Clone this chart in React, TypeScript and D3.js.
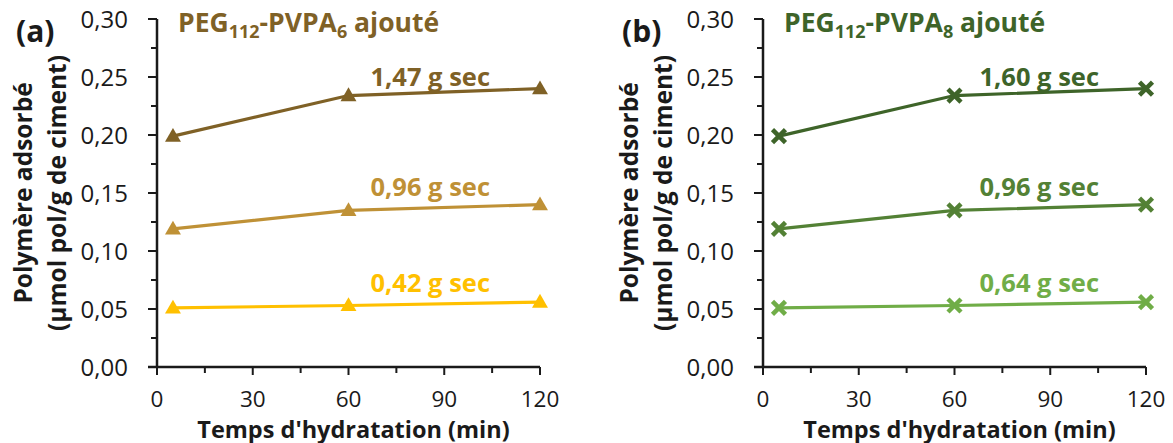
import React from "react";
import * as d3 from "d3";

const times = [5, 60, 120];
const xTickValues = [0, 30, 60, 90, 120];
const yTickValues = [0, 0.05, 0.1, 0.15, 0.2, 0.25, 0.3];

const seriesA_high = [0.199, 0.234, 0.24];
const seriesA_mid = [0.119, 0.135, 0.14];
const seriesA_low = [0.051, 0.053, 0.056];
const seriesB_high = [0.199, 0.234, 0.24];
const seriesB_mid = [0.119, 0.135, 0.14];
const seriesB_low = [0.051, 0.053, 0.056];

const labelsA = ["1,47 g sec", "0,96 g sec", "0,42 g sec"];
const labelsB = ["1,60 g sec", "0,96 g sec", "0,64 g sec"];

const colorsA = ["#7F6126", "#BF9136", "#FFC000"];
const colorsB = ["#3E6429", "#538135", "#70AD47"];

const FONT = "'Open Sans', sans-serif";
const INK = "#1a1a1a";

type PanelProps = {
  left: number;
  tag: string;
  sub: string;
  titleColor: string;
  series: number[][];
  labels: string[];
  colors: string[];
  marker: "tri" | "x";
  labelDx: number;
};

function Panel({ left, tag, sub, titleColor, series, labels, colors, marker, labelDx }: PanelProps) {
  const x = d3.scaleLinear().domain([0, 120]).range([left, left + 383]);
  const y = d3.scaleLinear().domain([0, 0.3]).range([367, 19]);
  const line = d3
    .line<number>()
    .x((_, i) => x(times[i]))
    .y((d) => y(d));
  const tri = d3.symbol().type(d3.symbolTriangle).size(110)();
  const fmt = (v: number) => v.toFixed(2).replace(".", ",");
  const yMinor = d3.range(0.025, 0.3, 0.05);
  const xMinor = d3.range(15, 120, 30);
  const labelDy = [-3, -9, -10];
  return (
    <g>
      <text x={left - 141} y={42} fontSize={30} fontWeight="bold" fill={INK} fontFamily={FONT}>
        {tag}
      </text>
      <g transform={`translate(${left - 125},${193}) rotate(-90)`}>
        <text x={0} y={0} textAnchor="middle" fontSize={24.5} fontWeight="bold" fill={INK} fontFamily={FONT}>
          Polymère adsorbé
        </text>
        <text x={0} y={34} textAnchor="middle" fontSize={24.5} fontWeight="bold" fill={INK} fontFamily={FONT}>
          (µmol pol/g de ciment)
        </text>
      </g>
      <line x1={x(0)} x2={x(0)} y1={y(0.3)} y2={y(0)} stroke={INK} strokeWidth={2.5} />
      <line x1={x(0) - 9} x2={x(120)} y1={y(0)} y2={y(0)} stroke={INK} strokeWidth={2.5} />
      {yTickValues.map((v) => (
        <g key={"yt" + v}>
          <line x1={x(0) - 9} x2={x(0)} y1={y(v)} y2={y(v)} stroke={INK} strokeWidth={2} />
          <text x={x(0) - 29} y={y(v) + 8.5} textAnchor="end" fontSize={24} fill={INK} fontFamily={FONT}>
            {fmt(v)}
          </text>
        </g>
      ))}
      {yMinor.map((v) => (
        <line key={"ym" + v} x1={x(0) - 6} x2={x(0)} y1={y(v)} y2={y(v)} stroke={INK} strokeWidth={2} />
      ))}
      {xTickValues.map((v) => (
        <g key={"xt" + v}>
          <line x1={x(v)} x2={x(v)} y1={y(0)} y2={y(0) + 8} stroke={INK} strokeWidth={2} />
          <text x={x(v)} y={y(0) + 40} textAnchor="middle" fontSize={22.5} fill={INK} fontFamily={FONT}>
            {v}
          </text>
        </g>
      ))}
      {xMinor.map((v) => (
        <line key={"xm" + v} x1={x(v)} x2={x(v)} y1={y(0)} y2={y(0) + 6} stroke={INK} strokeWidth={2} />
      ))}
      <text x={x(60) + 5} y={y(0) + 70.5} textAnchor="middle" fontSize={23.5} fontWeight="bold" fill={INK} fontFamily={FONT}>
        Temps d'hydratation (min)
      </text>
      <text x={left + 21} y={32} fontSize={26.5} fontWeight="bold" fill={titleColor} fontFamily={FONT}>
        PEG
        <tspan fontSize={18} dy={6}>112</tspan>
        <tspan dy={-6}>-PVPA</tspan>
        <tspan fontSize={18} dy={6}>{sub}</tspan>
        <tspan dy={-6}> ajouté</tspan>
      </text>
      {series.map((s, si) => (
        <g key={"s" + si}>
          <path d={line(s) || ""} fill="none" stroke={colors[si]} strokeWidth={3.2} />
          {s.map((v, i) =>
            marker === "tri" ? (
              <path key={i} d={tri || ""} transform={`translate(${x(times[i])},${y(v) + 1})`} fill={colors[si]} />
            ) : (
              <g key={i} transform={`translate(${x(times[i])},${y(v)})`} stroke={colors[si]} strokeWidth={4.5}>
                <line x1={-6.5} y1={-6.5} x2={6.5} y2={6.5} />
                <line x1={-6.5} y1={6.5} x2={6.5} y2={-6.5} />
              </g>
            )
          )}
          <text
            x={x(90) + labelDx}
            y={y(s[2]) + labelDy[si]}
            textAnchor="middle"
            fontSize={25.5}
            fontWeight="bold"
            fill={colors[si]}
            fontFamily={FONT}
          >
            {labels[si]}
          </text>
        </g>
      ))}
    </g>
  );
}

export default function App() {
  return (
    <svg width={1173} height={443} style={{ position: "absolute", left: 0, top: 0, background: "#fff" }}>
      <rect width={1173} height={443} fill="#fff" />
      <Panel
        left={157}
        tag="(a)"
        sub="6"
        titleColor="#7F6126"
        series={[seriesA_high, seriesA_mid, seriesA_low]}
        labels={labelsA}
        colors={colorsA}
        marker="tri"
        labelDx={-14}
      />
      <Panel
        left={763}
        tag="(b)"
        sub="8"
        titleColor="#3E6429"
        series={[seriesB_high, seriesB_mid, seriesB_low]}
        labels={labelsB}
        colors={colorsB}
        marker="x"
        labelDx={-11}
      />
    </svg>
  );
}
